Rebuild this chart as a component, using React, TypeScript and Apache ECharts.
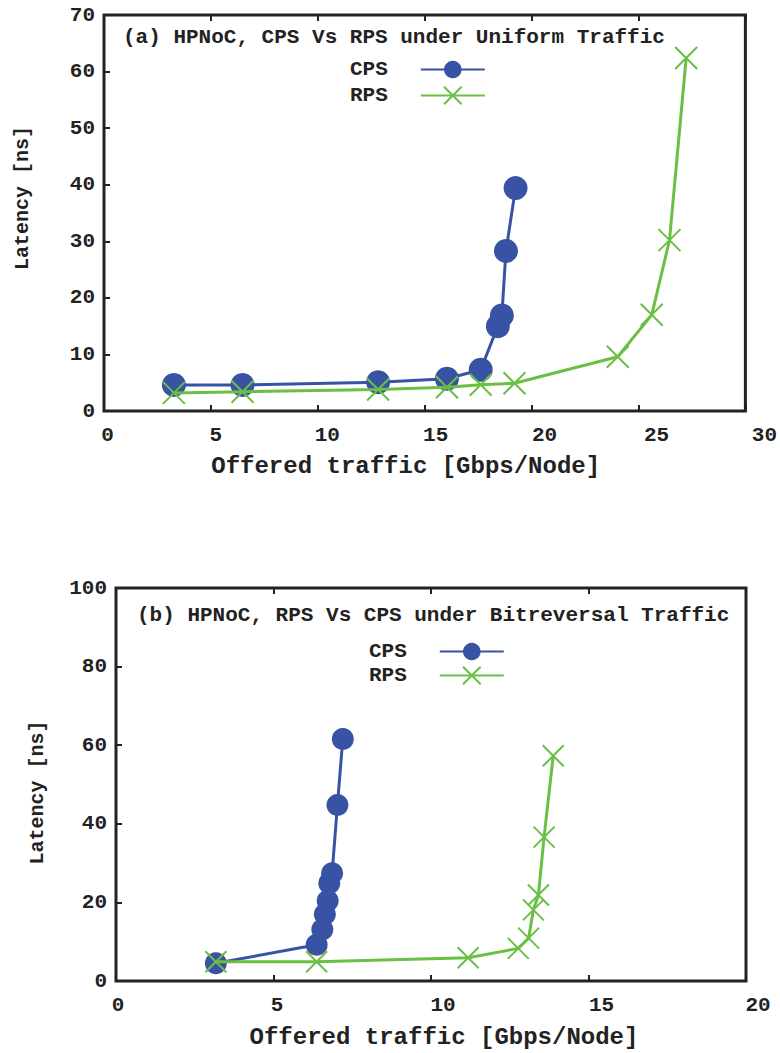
import React, { useEffect, useRef } from "react";
import * as echarts from "echarts";

// (a) Uniform traffic
const aCpsX = [3.27, 6.48, 12.82, 16.04, 17.62, 18.42, 18.61, 18.8, 19.25];
const aCpsY = [4.6, 4.6, 5.1, 5.7, 7.3, 15.0, 16.9, 28.3, 39.4];
const aRpsX = [3.27, 6.48, 12.82, 16.04, 17.62, 19.2, 24.03, 25.62, 26.45, 27.23];
const aRpsY = [3.2, 3.4, 3.8, 4.2, 4.65, 4.9, 9.6, 17.0, 30.2, 62.4];

// (b) Bitreversal traffic
const bCpsX = [3.17, 6.37, 6.55, 6.63, 6.72, 6.77, 6.86, 7.03, 7.2];
const bCpsY = [4.5, 9.2, 13.1, 17.0, 20.4, 24.9, 27.4, 44.8, 61.6];
const bRpsX = [3.17, 6.37, 11.18, 12.77, 13.1, 13.25, 13.41, 13.59, 13.88];
const bRpsY = [4.9, 4.9, 5.9, 8.3, 10.9, 18.1, 21.9, 36.6, 57.3];

const seriesNames = ["CPS", "RPS"];
const titleA = "(a) HPNoC, CPS Vs RPS under Uniform Traffic";
const titleB = "(b) HPNoC, RPS Vs CPS under Bitreversal Traffic";
const xTitle = "Offered traffic [Gbps/Node]";
const yTitle = "Latency [ns]";

const BLUE = "#3953a4";
const GREEN = "#6abf45";
const FONT = "Liberation Mono";
const CROSS = "path://M0,0L22,22M22,0L0,22";

const zip = (xs: number[], ys: number[]) => xs.map((x, i) => [x, ys[i]]);

export default function App() {
  const ref = useRef<HTMLDivElement>(null);
  useEffect(() => {
    if (!ref.current) return;
    const chart = echarts.init(ref.current, undefined, { renderer: "svg" });
    const labelStyle = {
      fontFamily: FONT,
      fontWeight: "bold" as const,
      fontSize: 21,
      color: "#222",
    };
    const tick = { show: true, inside: true, length: 6, lineStyle: { color: "#222", width: 2 } };
    // small per-label nudges to mimic the original's label placement
    const shiftsA: Record<number, number> = { 0: 7, 5: 10, 10: 19, 15: 22, 20: 26, 25: 36, 30: 38 };
    const shiftsB: Record<number, number> = { 0: 4, 5: 7, 10: 24, 15: 26, 20: 24 };
    const richFor = (shifts: Record<number, number>) => {
      const r: Record<string, any> = {};
      Object.keys(shifts).forEach((k) => {
        r["p" + k] = { ...labelStyle, padding: [0, 0, 0, shifts[Number(k)]] };
      });
      return r;
    };
    const xAxisBase = (gridIndex: number, max: number, gap: number, shifts: Record<number, number>, namePad: number[]) => ({
      type: "value" as const,
      gridIndex,
      min: 0,
      max,
      interval: 5,
      name: xTitle,
      nameLocation: "middle" as const,
      nameGap: gap,
      nameTextStyle: { fontFamily: FONT, fontWeight: "bold" as const, fontSize: 24, color: "#222", padding: namePad },
      axisLine: { show: false },
      axisTick: tick,
      axisLabel: {
        ...labelStyle,
        margin: 14,
        formatter: (v: number) => `{p${v}|${v}}`,
        rich: richFor(shifts),
      },
      splitLine: { show: false },
    });
    const xTopMirror = (gridIndex: number, max: number) => ({
      type: "value" as const,
      gridIndex,
      position: "top" as const,
      min: 0,
      max,
      interval: 5,
      axisLine: { show: false },
      axisTick: tick,
      axisLabel: { show: false },
      splitLine: { show: false },
    });
    const yAxisBase = (gridIndex: number, max: number, interval: number, gap: number, namePad: number[]) => ({
      type: "value" as const,
      gridIndex,
      min: 0,
      max,
      interval,
      name: yTitle,
      nameLocation: "middle" as const,
      nameGap: gap,
      nameRotate: 90,
      nameTextStyle: { fontFamily: FONT, fontWeight: "bold" as const, fontSize: 20, color: "#222", padding: namePad },
      axisLine: { show: false },
      axisTick: tick,
      axisLabel: { ...labelStyle, margin: 9 },
      splitLine: { show: false },
    });
    const cps = (xi: number, yi: number, data: number[][], size: number) => ({
      name: seriesNames[0],
      type: "line" as const,
      xAxisIndex: xi,
      yAxisIndex: yi,
      data,
      symbol: "circle",
      symbolSize: size,
      lineStyle: { color: BLUE, width: 3 },
      itemStyle: { color: BLUE },
      z: 3,
    });
    const rps = (xi: number, yi: number, data: number[][], size: number) => ({
      name: seriesNames[1],
      type: "line" as const,
      xAxisIndex: xi,
      yAxisIndex: yi,
      data,
      symbol: CROSS,
      symbolSize: size,
      lineStyle: { color: GREEN, width: 3 },
      itemStyle: { color: GREEN, borderColor: GREEN, borderWidth: 2 },
      z: 4,
    });
    const legendText = {
      fontFamily: FONT,
      fontWeight: "bold" as const,
      fontSize: 21,
      color: "#222",
      padding: [0, 28, 0, 0],
    };
    const titleText = { fontFamily: FONT, fontWeight: "bold" as const, fontSize: 21, color: "#222" };
    chart.setOption({
      animation: false,
      backgroundColor: "#fff",
      title: [
        { text: titleA, left: 123, top: 27, padding: 0, textStyle: titleText },
        { text: titleB, left: 137, top: 605, padding: 0, textStyle: titleText },
      ],
      legend: [
        {
          data: seriesNames,
          orient: "vertical",
          align: "right",
          left: 350,
          top: 59,
          padding: 0,
          itemWidth: 64,
          itemHeight: 22,
          itemGap: 5,
          selectedMode: false,
          textStyle: legendText,
        },
        {
          data: seriesNames,
          orient: "vertical",
          align: "right",
          left: 369,
          top: 641,
          padding: 0,
          itemWidth: 64,
          itemHeight: 22,
          itemGap: 3,
          selectedMode: false,
          textStyle: legendText,
        },
      ],
      grid: [
        { left: 104, top: 15, width: 642, height: 396, show: true, borderColor: "#222", borderWidth: 3, backgroundColor: "transparent" },
        { left: 116, top: 588, width: 630, height: 393, show: true, borderColor: "#222", borderWidth: 3, backgroundColor: "transparent" },
      ],
      xAxis: [
        xAxisBase(0, 30, 43, shiftsA, [0, 38, 0, 0]),
        xAxisBase(1, 20, 44, shiftsB, [0, 0, 0, 26]),
        xTopMirror(0, 30),
        xTopMirror(1, 20),
      ],
      yAxis: [yAxisBase(0, 70, 10, 72, [0, 0, 0, 30]), yAxisBase(1, 100, 20, 69, [0, 16, 0, 0])],
      series: [
        cps(0, 0, zip(aCpsX, aCpsY), 24),
        rps(0, 0, zip(aRpsX, aRpsY), 22),
        cps(1, 1, zip(bCpsX, bCpsY), 22),
        rps(1, 1, zip(bRpsX, bRpsY), 21),
      ],
    });
    return () => chart.dispose();
  }, []);
  return <div ref={ref} style={{ width: 780, height: 1053, position: "absolute", left: 0, top: 0 }} />;
}
